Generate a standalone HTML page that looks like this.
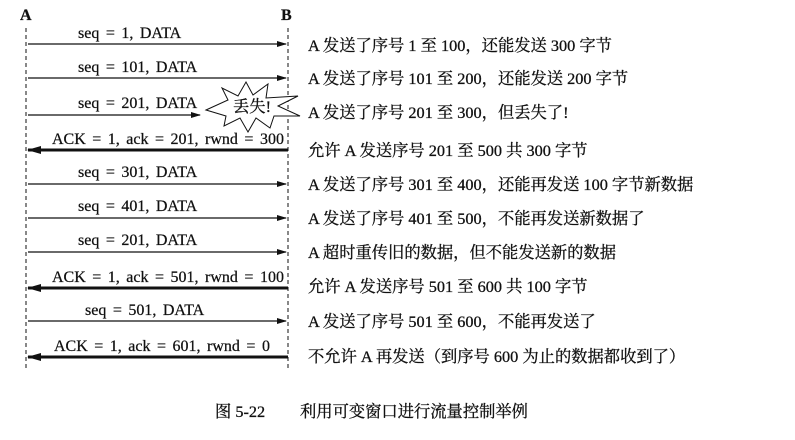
<!DOCTYPE html>
<html><head><meta charset="utf-8"><style>
body{margin:0;background:#fff;}
svg{display:block;}
.l{font-family:"Liberation Serif","Noto Serif CJK SC",serif;font-size:16px;fill:#111;word-spacing:2.5px;stroke:#111;stroke-width:0.25;}
.r{font-family:"Liberation Serif","Noto Serif CJK SC",serif;font-size:16.3px;fill:#111;stroke:#111;stroke-width:0.3;}
</style></head><body>
<svg width="795" height="440" xmlns="http://www.w3.org/2000/svg">
<defs>
<marker id="ah" markerWidth="10" markerHeight="6" refX="9" refY="3" orient="auto" markerUnits="userSpaceOnUse"><path d="M0,0 L10,3 L0,6 Z" fill="#111"/></marker>
<marker id="ahb" markerWidth="14" markerHeight="8" refX="13" refY="4" orient="auto" markerUnits="userSpaceOnUse"><path d="M0,0 L14,4 L0,8 Z" fill="#111"/></marker>
</defs>
<text x="20" y="20" class="l" font-weight="bold" font-size="15">A</text>
<text x="281" y="20" class="l" font-weight="bold" font-size="15">B</text>
<line x1="26" y1="28" x2="26" y2="368" stroke="#111" stroke-dasharray="4,3"/>
<line x1="288" y1="28" x2="288" y2="368" stroke="#111" stroke-dasharray="4,3"/>
<g stroke="#111" stroke-width="1.3">
<line x1="28" y1="44" x2="286" y2="44" marker-end="url(#ah)"/>
<line x1="28" y1="78" x2="286" y2="78" marker-end="url(#ah)"/>
<line x1="28" y1="115" x2="200" y2="115" marker-end="url(#ah)"/>
<line x1="28" y1="184" x2="286" y2="184" marker-end="url(#ah)"/>
<line x1="28" y1="218" x2="286" y2="218" marker-end="url(#ah)"/>
<line x1="28" y1="252" x2="286" y2="252" marker-end="url(#ah)"/>
<line x1="28" y1="321" x2="286" y2="321" marker-end="url(#ah)"/>
</g>
<g stroke="#111" stroke-width="3">
<line x1="288" y1="150" x2="28" y2="150" marker-end="url(#ahb)"/>
<line x1="288" y1="288" x2="28" y2="288" marker-end="url(#ahb)"/>
<line x1="288" y1="357" x2="28" y2="357" marker-end="url(#ahb)"/>
</g>
<text x="78" y="38" class="l">seq = 1, DATA</text>
<text x="78" y="72" class="l">seq = 101, DATA</text>
<text x="78" y="108" class="l">seq = 201, DATA</text>
<text x="52" y="144" class="l">ACK = 1, ack = 201, rwnd = 300</text>
<text x="78" y="177" class="l">seq = 301, DATA</text>
<text x="78" y="211" class="l">seq = 401, DATA</text>
<text x="78" y="245" class="l">seq = 201, DATA</text>
<text x="52" y="282" class="l">ACK = 1, ack = 501, rwnd = 100</text>
<text x="85" y="315" class="l">seq = 501, DATA</text>
<text x="54" y="351" class="l">ACK = 1, ack = 601, rwnd = 0</text>
<path d="M206,110 L228,100 L222,88 L238,96 L246,82 L253,95 L268,84 L266,98 L298,96 L278,106 L300,116 L274,116 L270,128 L256,118 L248,132 L240,118 L224,126 L226,116 Z" fill="#fff" stroke="#111" stroke-width="1"/>
<text x="252" y="112" class="r" font-size="15" text-anchor="middle">丢失!</text>
<text x="308" y="51" class="r">A 发送了序号 1 至 100，还能发送 300 字节</text>
<text x="308" y="84" class="r">A 发送了序号 101 至 200，还能发送 200 字节</text>
<text x="308" y="118" class="r">A 发送了序号 201 至 300，但丢失了!</text>
<text x="308" y="156" class="r">允许 A 发送序号 201 至 500  共 300 字节</text>
<text x="308" y="190" class="r">A 发送了序号 301 至 400，还能再发送 100 字节新数据</text>
<text x="308" y="224" class="r">A 发送了序号 401 至 500，不能再发送新数据了</text>
<text x="308" y="258" class="r">A 超时重传旧的数据，但不能发送新的数据</text>
<text x="308" y="292" class="r">允许 A 发送序号 501 至 600 共 100 字节</text>
<text x="308" y="327" class="r">A 发送了序号 501 至 600，不能再发送了</text>
<text x="308" y="362" class="r">不允许 A 再发送（到序号 600 为止的数据都收到了）</text>
<text x="215" y="417" class="r" font-size="17">图 5-22</text>
<text x="300" y="417" class="r" font-size="17">利用可变窗口进行流量控制举例</text>
</svg>
</body></html>
